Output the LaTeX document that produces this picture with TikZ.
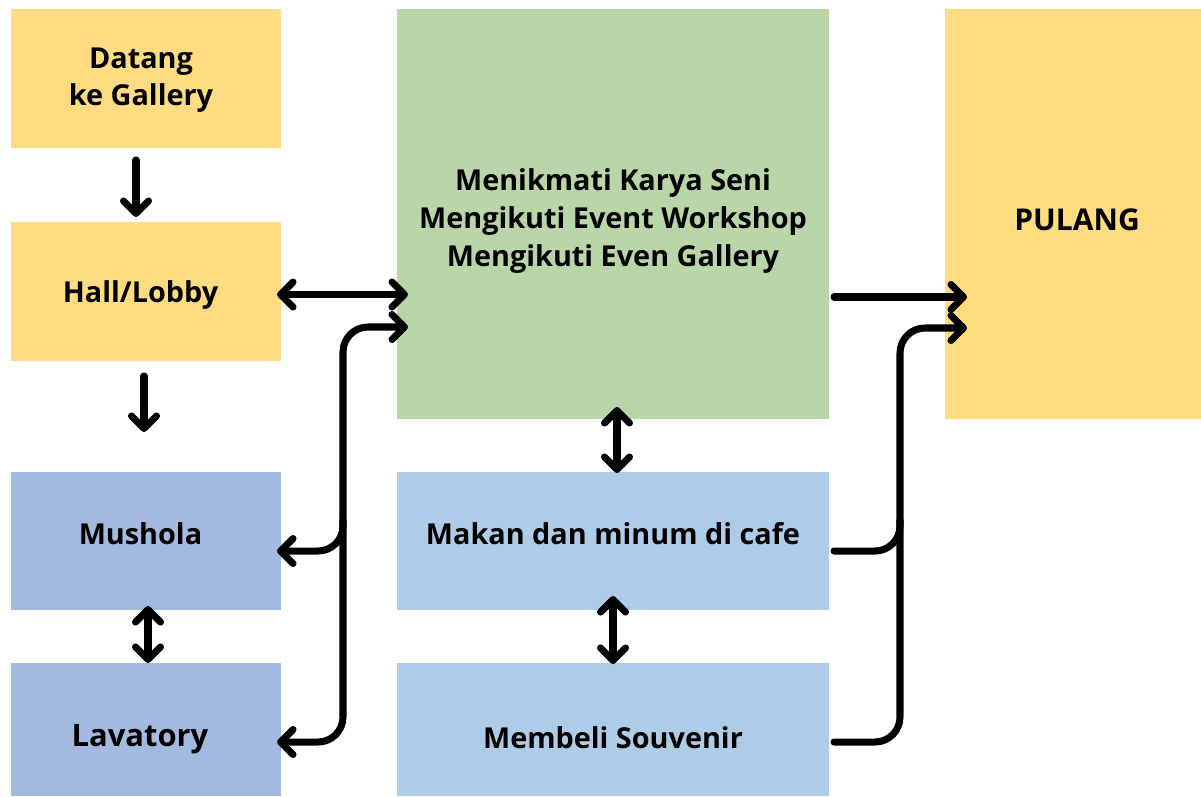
\documentclass[tikz,border=0pt]{standalone}
\usepackage{fontspec}
\setmainfont{Open Sans}
\usetikzlibrary{arrows.meta}
\definecolor{kuning}{HTML}{FFDC80}
\definecolor{hijau}{HTML}{B8D6A7}
\definecolor{ungu}{HTML}{A2B9E0}
\definecolor{biru}{HTML}{AECBE8}
% geser teks tanpa mengubah ukuran kotak
\newcommand{\geser}[3][0pt]{\raisebox{#2}[\height][\depth]{\makebox[0pt]{\hspace*{#1}#3}}}
\tikzset{
  box/.style={inner sep=0pt, outer sep=0pt, align=center,
    font=\fontsize{16.4}{21.5}\selectfont\bfseries},
  besar/.style={font=\fontsize{17.6}{21.5}\selectfont\bfseries},
  panah/.style={line width=4pt, line cap=round, line join=round}
}
\begin{document}
\begin{tikzpicture}[>={Straight Barb[round,length=0.25cm,width=0.5cm]}]
				\useasboundingbox (0,0) rectangle (24.02,-15.92);
				% kolom kiri
				\node[box, fill=kuning, minimum width=5.4cm, minimum height=2.78cm] (datang) at (2.92,-1.57) {\geser[-0.2cm]{-0.02cm}{\begin{tabular}{@{}c@{}}Datang\\ke Gallery\end{tabular}}};
				\node[box, fill=kuning, minimum width=5.4cm, minimum height=2.78cm] (hall) at (2.92,-5.83) {\geser[-0.22cm]{-0.08cm}{Hall/Lobby}};
				\node[box, fill=ungu, minimum width=5.4cm, minimum height=2.76cm] (mushola) at (2.92,-10.82) {\geser[-0.22cm]{0.14cm}{Mushola}};
				\node[box, besar, fill=ungu, minimum width=5.4cm, minimum height=2.66cm] (lavatory) at (2.92,-14.59) {\geser[-0.24cm]{-0.2cm}{Lavatory}};
				% kolom tengah
				\node[box, fill=hijau, minimum width=8.64cm, minimum height=8.2cm] (seni) at (12.26,-4.28) {\geser{-0.14cm}{\begin{tabular}{@{}c@{}}Menikmati Karya Seni\\Mengikuti Event Workshop\\Mengikuti Even Gallery\end{tabular}}};
				\node[box, fill=biru, minimum width=8.64cm, minimum height=2.76cm] (cafe) at (12.26,-10.82) {\geser{0.14cm}{Makan dan minum di cafe}};
				\node[box, fill=biru, minimum width=8.64cm, minimum height=2.66cm] (souvenir) at (12.26,-14.59) {\geser{-0.16cm}{Membeli Souvenir}};
				% kolom kanan
				\node[box, fill=kuning, minimum width=5.12cm, minimum height=8.2cm, font=\fontsize{17.1}{21.5}\selectfont\bfseries] (pulang) at (21.46,-4.28) {\geser[0.16cm]{-0.12cm}{PULANG}};
				% kiri
				\draw[panah,->] ([xshift=-0.2cm,yshift=-0.24cm]datang.south) -- ([xshift=-0.2cm,yshift=0.1cm]hall.north);
				\draw[panah,->] ([xshift=-0.04cm,yshift=-0.3cm]hall.south) -- ([xshift=-0.04cm,yshift=0.8cm]mushola.north);
				\draw[panah,<->] ([xshift=0.04cm,yshift=0.08cm]mushola.south) -- ([xshift=0.04cm]lavatory.north);
				\draw[panah,<->] ([xshift=-0.08cm,yshift=-0.06cm]hall.east) -- ([xshift=0.22cm,yshift=-0.06cm]seni.west |- hall.east);
				% jalur kiri
				\coordinate (jl) at (6.86,-6.54);
				\draw[panah,<->, rounded corners=0.5cm] ([xshift=0.22cm]seni.west |- jl) -- (jl) -- (6.86,-14.84) -- ([xshift=-0.08cm]lavatory.east |- 0,-14.84);
				\draw[panah,->, rounded corners=0.5cm] (6.86,-10.4) -- (6.86,-11.02) -- ([xshift=-0.08cm]mushola.east |- 0,-11.02);
				% tengah
				\draw[panah,<->] ([xshift=0.08cm,yshift=0.24cm]seni.south) -- ([xshift=0.08cm,yshift=-0.02cm]cafe.north);
				\draw[panah,<->] ([yshift=0.28cm]cafe.south) -- ([yshift=-0.02cm]souvenir.north);
				% kanan
				\draw[panah,->] ([xshift=0.1cm,yshift=-1.66cm]seni.east) -- ([xshift=0.44cm,yshift=-1.66cm]pulang.west);
				\coordinate (jk) at (18.0,-6.56);
				\draw[panah,->, rounded corners=0.5cm] ([xshift=0.1cm]souvenir.east |- 0,-14.84) -- (18.0,-14.84) -- (jk) -- ([xshift=0.44cm]pulang.west |- jk);
				\draw[panah, rounded corners=0.5cm] ([xshift=0.1cm]cafe.east |- 0,-11.02) -- (18.0,-11.02) -- (18.0,-10.4);
			\end{tikzpicture}
\end{document}
